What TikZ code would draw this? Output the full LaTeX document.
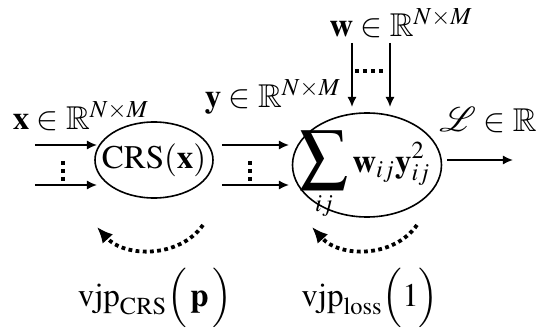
\documentclass[tikz,border=0pt]{standalone}
\usepackage{mathptmx}
\usepackage{amsmath,amssymb}
\usepackage{mathrsfs}
\usepackage{tikz}
\usetikzlibrary{arrows.meta,shapes.geometric}

\begin{document}
\begin{tikzpicture}[x=0.5pt,y=-0.5pt,>=Latex,
font=\fontsize{16.5}{19}\selectfont,
op node/.style={draw,ellipse,line width=0.8pt,inner sep=0pt},
flow/.style={-{Latex[length=5pt,width=4.5pt]},line width=0.8pt},
back flow/.style={-{Latex[length=8pt,width=7pt]},line width=1.9pt,dash pattern=on 1.9pt off 1.7pt},
dots/.style={line width=1.8pt,dash pattern=on 1.8pt off 2.2pt},
plain label/.style={inner sep=0pt}]
\useasboundingbox (0,0) rectangle (543,332);
\node[op node,minimum width=59pt,minimum height=38pt] (crs) at (154,160) {};
\node[plain label] (crs text) at (crs.center) {$\mathrm{CRS}(\mathbf{x})$};
\node[op node,minimum width=74.5pt,minimum height=52pt] (loss) at (367,165) {};
\node[plain label] (loss text) at ([xshift=-1pt,yshift=-5pt]loss.center) {$\displaystyle\mathop{\text{\scalebox{1.45}{$\displaystyle\sum$}}}\limits_{ij}\mathbf{w}_{ij}\mathbf{y}_{ij}^2$};
\node[plain label] (xlab) at (81,116) {$\mathbf{x}\in\mathbb{R}^{N\times M}$};
\node[plain label] (ylab) at (273,97) {$\mathbf{y}\in\mathbb{R}^{N\times M}$};
\node[plain label] (wlab) at (401,23) {$\mathbf{w}\in\mathbb{R}^{N\times M}$};
\node[plain label] (llab) at (488,120) {$\mathscr{L}\in\mathbb{R}$};
\node[plain label] (vcrs) at (155,298) {$\mathrm{vjp}_{\mathrm{CRS}}\Big(\,\mathbf{p}\,\Big)$};
\node[plain label] (vloss) at (370,298) {$\mathrm{vjp}_{\mathrm{loss}}\Big(1\Big)$};
% inputs to CRS
\coordinate (x1) at (35,145);
\coordinate (x2) at (35,185);
\draw[flow] (x1) -- (97,145);
\draw[flow] (x2) -- (97,185);
\draw[dots] (63,161) -- (63,182);
% CRS to loss
\coordinate (y1) at (222,145);
\coordinate (y2) at (222,185);
\draw[flow] (y1) -- (289,145);
\draw[flow] (y2) -- (289,185);
\draw[dots] (250,161) -- (250,182);
% weights
\coordinate (w1) at (352,43);
\coordinate (w2) at (390,43);
\draw[flow] (w1) -- (352,107);
\draw[flow] (w2) -- (390,107);
\draw[dots] (355,71) -- (386,71);
% output
\coordinate (out) at (513,160);
\draw[flow] (loss.east) ++(5,-5) -- (out);
% backward passes
\draw[back flow] (203,225) .. controls (180,258) and (125,258) .. (97,227);
\draw[back flow] (417,225) .. controls (394,258) and (340,258) .. (312,227);
\end{tikzpicture}
\end{document}
